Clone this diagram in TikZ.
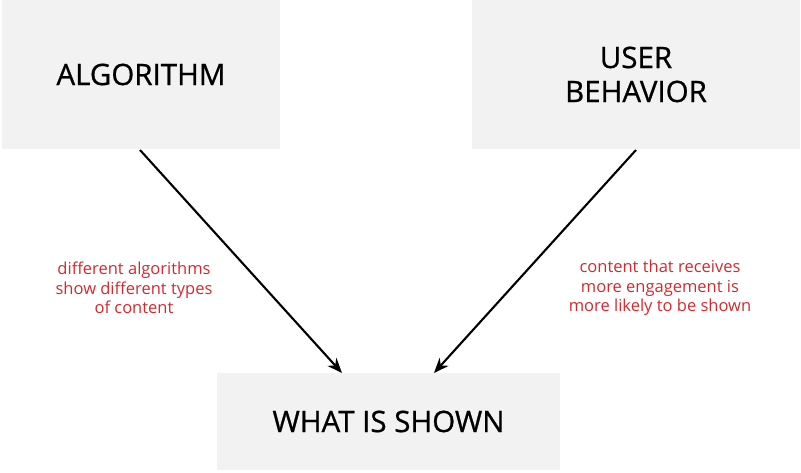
\documentclass[tikz,border=0pt]{standalone}
\usepackage{fontspec}
\setmainfont{Open Sans}
\newfontfamily\boxfont{Open Sans}[FakeBold=0.8]
\usetikzlibrary{arrows.meta}
\definecolor{boxgray}{HTML}{F2F2F2}
\definecolor{notered}{HTML}{D02A30}
\begin{document}
\begin{tikzpicture}[x=1pt,y=1pt,
  box/.style={fill=boxgray,draw=none,inner sep=0pt,align=center,
    font=\boxfont\fontsize{29.5}{34}\selectfont},
  note/.style={text=notered,align=center,font=\fontsize{16.5}{19.5}\selectfont},
  link/.style={draw=black,line width=2.1pt,-{Stealth[length=15pt,width=12pt]}}]
\useasboundingbox (0,0) rectangle (801,473);
% the three boxes
\node[box,minimum width=278pt,minimum height=149pt] (alg) at (141,398.5) {ALGORITHM};
\node[box,minimum width=328pt,minimum height=149pt] (usr) at (636,398.5) {USER\\BEHAVIOR};
\node[box,minimum width=343pt,minimum height=97pt] (show) at (388.5,51.5) {WHAT IS SHOWN};
% connector anchors
\coordinate (a1) at (140,323);
\coordinate (a2) at (342,100);
\coordinate (b1) at (636,323);
\coordinate (b2) at (434,100);
\draw[link] (a1) -- (a2);
\draw[link] (b1) -- (b2);
% explanatory notes
\node[note] (n1) at (134,185) {different algorithms\\show different types\\of content};
\node[note] (n2) at (660,185) {content that receives\\more engagement is\\more likely to be shown};
\end{tikzpicture}
\end{document}
